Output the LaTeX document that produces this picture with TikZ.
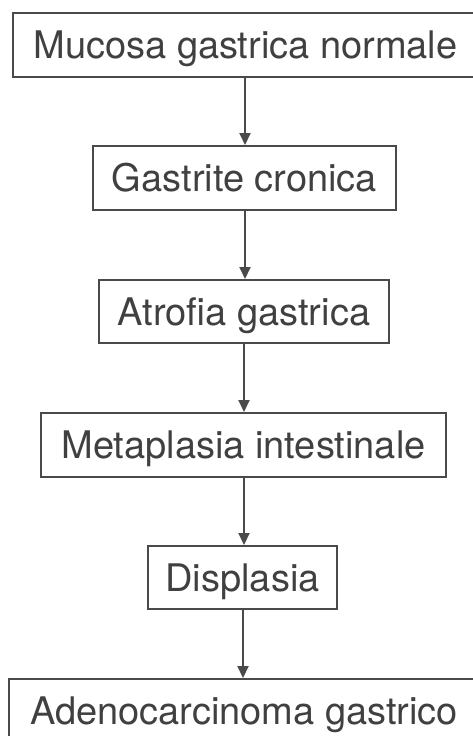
\documentclass[tikz,border=0pt]{standalone}
\usepackage{fontspec}
\setmainfont{TeX Gyre Heros}
\usetikzlibrary{arrows.meta}
\definecolor{ink}{HTML}{404040}
\definecolor{rule}{HTML}{4A4A4A}
\tikzset{
  stagebox/.style={draw=rule, line width=2pt, fill=white, rectangle, inner sep=0pt,
    text=ink, font=\fontsize{38}{40}\selectfont, text height=27pt, text depth=0pt},
  flow/.style={draw=rule, line width=2pt, -{Triangle[length=12pt,width=11pt]}}
}
\begin{document}
\begin{tikzpicture}[x=1pt,y=-1pt]
\useasboundingbox[fill=white] (0,0) rectangle (473,736);
\begin{scope}
\clip (0,0) rectangle (473,736);
\node[stagebox, minimum width=465pt, minimum height=64pt] (n1) at (245.5,45) {Mucosa gastrica normale};
\node[stagebox, minimum width=303pt, minimum height=64pt] (n2) at (244.5,178) {Gastrite cronica};
\node[stagebox, minimum width=290pt, minimum height=63pt] (n3) at (244,311.5) {Atrofia gastrica};
\node[stagebox, minimum width=405pt, minimum height=64pt] (n4) at (243.5,445) {Metaplasia intestinale};
\node[stagebox, minimum width=189pt, minimum height=63pt] (n5) at (242.5,577.5) {Displasia};
\node[stagebox, minimum width=470pt, minimum height=64pt] (n6) at (244,711) {Adenocarcinoma gastrico};
\draw[flow] (n1.south -| 245,0) -- (n2.north -| 245,0);
\draw[flow] (n2.south -| 245,0) -- (n3.north -| 245,0);
\draw[flow] (n3.south -| 244,0) -- (n4.north -| 244,0);
\draw[flow] (n4.south -| 244,0) -- (n5.north -| 244,0);
\draw[flow] (n5.south -| 243,0) -- (n6.north -| 243,0);
\end{scope}
\end{tikzpicture}
\end{document}
